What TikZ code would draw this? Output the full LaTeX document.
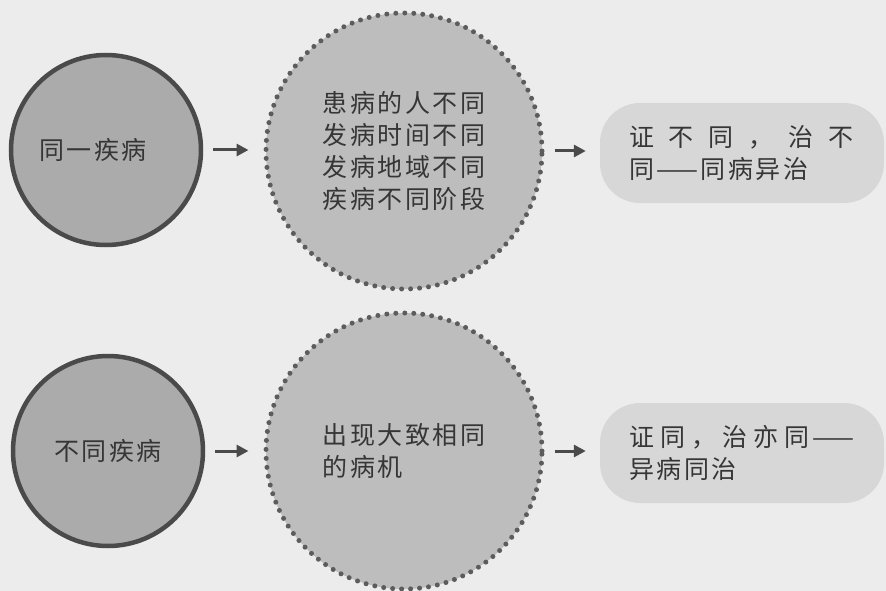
\documentclass[tikz,border=0pt]{standalone}
\usepackage{fontspec}
\setmainfont[LetterSpace=10]{Noto Sans CJK SC}
\usetikzlibrary{arrows.meta}
\definecolor{bgc}{HTML}{ECECEC}
\definecolor{solidfill}{HTML}{ABABAB}
\definecolor{dotfill}{HTML}{BDBDBD}
\definecolor{boxfill}{HTML}{D7D7D7}
\definecolor{edgec}{HTML}{4A4A4A}
\definecolor{txtc}{HTML}{363636}
\tikzset{
  solidcirc/.style={circle, draw=edgec, line width=4.5pt, fill=solidfill, minimum size=190pt, inner sep=0pt, text=txtc},
  dotcirc/.style={circle, fill=dotfill, minimum size=276pt, inner sep=0pt, text=txtc, align=left,
    draw=edgec!90, line width=5pt, dash pattern=on 0pt off 9pt, line cap=round},
  resultbox/.style={rounded corners=40pt, fill=boxfill, minimum width=284pt, minimum height=100pt, inner sep=0pt, text=txtc, align=left, text width=226pt},
  flow/.style={draw=edgec, line width=3pt, -{Triangle[length=12pt,width=12pt]}}
}
\begin{document}
\begin{tikzpicture}[x=1pt,y=-1pt, font=\fontsize{25}{32}\selectfont]
\fill[bgc] (0,0) rectangle (886,591);
\useasboundingbox (0,0) rectangle (886,591);
% top row
\node[solidcirc] (d1) at (106,150) {同一疾病\kern26pt};
\node[dotcirc] (m1) at (404,151) {患病的人不同\\发病时间不同\\发病地域不同\\疾病不同阶段};
\node[resultbox] (r1) at (742,153) {\makebox[224pt][s]{证\hfill 不\hfill 同\hfill ，\hfill 治\hfill 不}\\同——同病异治};
% bottom row
\node[solidcirc] (d2) at (108,451) {不同疾病};
\node[dotcirc] (m2) at (404,451) {出现大致相同\\的病机};
\node[resultbox] (r2) at (742,453) {\makebox[225pt][s]{证\hfill 同\hfill ，\hfill 治\hfill 亦\hfill 同——}\\异病同治};
% arrows
\draw[flow, shorten <=10pt, shorten >=15pt] (d1.east) -- (d1.east -| m1.west);
\draw[flow, shorten <=10pt, shorten >=14pt] (m1.east) -- (m1.east -| r1.west);
\draw[flow, shorten <=10pt, shorten >=15pt] (d2.east) -- (d2.east -| m2.west);
\draw[flow, shorten <=10pt, shorten >=14pt] (m2.east) -- (m2.east -| r2.west);
\end{tikzpicture}
\end{document}
